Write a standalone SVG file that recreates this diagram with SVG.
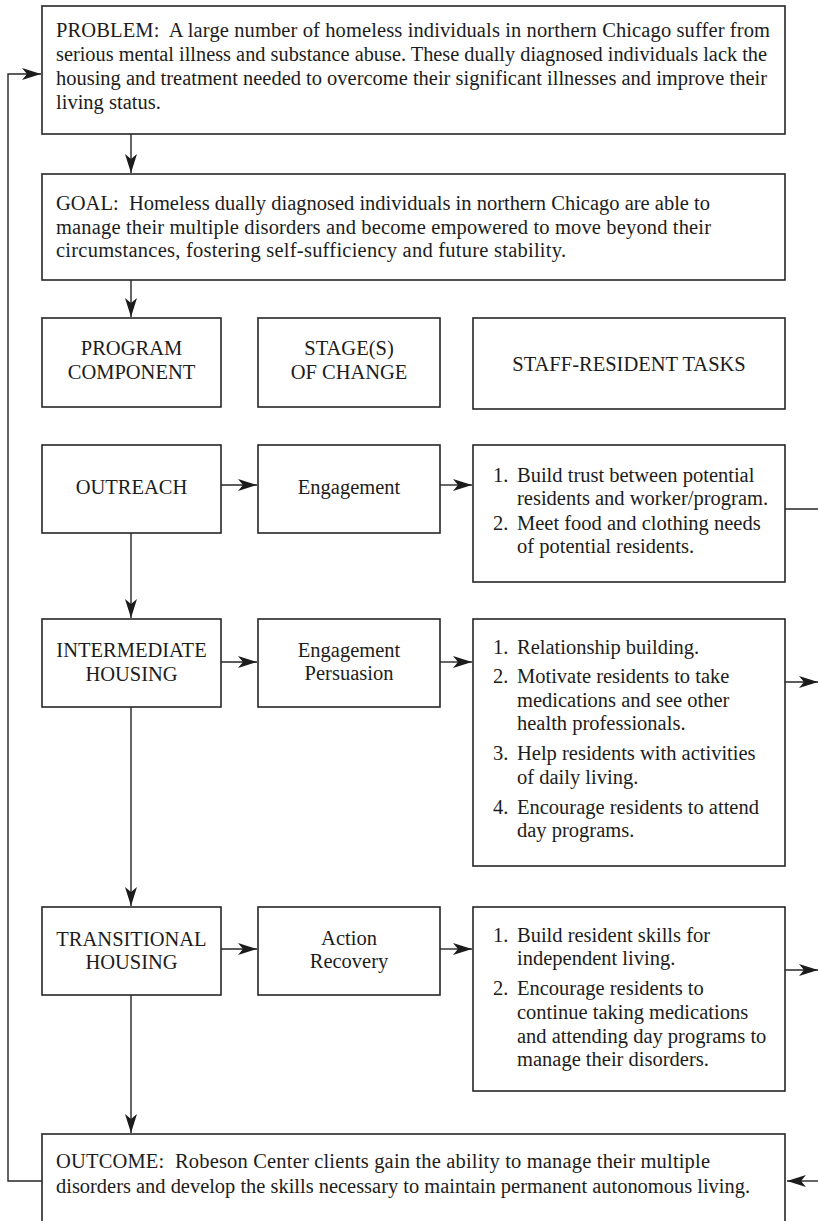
<svg xmlns="http://www.w3.org/2000/svg" width="818" height="1221" viewBox="0 0 818 1221">
<style>
.box{fill:#fff;stroke:#262626;stroke-width:1.6}
.t{font-family:"Liberation Serif",serif;font-size:20.5px;fill:#1c1c1c}
.c{text-anchor:middle}
.ln{fill:none;stroke:#262626;stroke-width:1.4}
</style>
<defs>
<marker id="ah" markerUnits="userSpaceOnUse" markerWidth="22" markerHeight="14" viewBox="-20 -7 22 14" refX="0" refY="0" orient="auto">
<path d="M0,0 L-19,-6 L-14,0 L-19,6 z" fill="#1c1c1c"/>
</marker>
</defs>
<rect width="818" height="1221" fill="#fff"/>
<g id="connectors">
<polyline class="ln" points="42,1181 8,1181 8,74 41,74" marker-end="url(#ah)"/>
<line class="ln" x1="131" y1="134" x2="131" y2="173" marker-end="url(#ah)"/>
<line class="ln" x1="131" y1="280" x2="131" y2="317" marker-end="url(#ah)"/>
<line class="ln" x1="221" y1="485" x2="257" y2="485" marker-end="url(#ah)"/>
<line class="ln" x1="440" y1="485" x2="472" y2="485" marker-end="url(#ah)"/>
<line class="ln" x1="785" y1="509" x2="818" y2="509"/>
<line class="ln" x1="131" y1="533" x2="131" y2="618" marker-end="url(#ah)"/>
<line class="ln" x1="221" y1="662" x2="257" y2="662" marker-end="url(#ah)"/>
<line class="ln" x1="440" y1="662" x2="472" y2="662" marker-end="url(#ah)"/>
<line class="ln" x1="785" y1="682" x2="818" y2="682" marker-end="url(#ah)"/>
<line class="ln" x1="131" y1="707" x2="131" y2="906" marker-end="url(#ah)"/>
<line class="ln" x1="221" y1="949" x2="257" y2="949" marker-end="url(#ah)"/>
<line class="ln" x1="440" y1="949" x2="472" y2="949" marker-end="url(#ah)"/>
<line class="ln" x1="785" y1="970" x2="818" y2="970" marker-end="url(#ah)"/>
<line class="ln" x1="131" y1="995" x2="131" y2="1133" marker-end="url(#ah)"/>
<line class="ln" x1="818" y1="1181" x2="787" y2="1181" marker-end="url(#ah)"/>
</g>
<g id="problem">
<rect class="box" x="42" y="6" width="743" height="128"/>
<text class="t" x="56" y="37" textLength="714" lengthAdjust="spacing">PROBLEM:&#160; A large number of homeless individuals in northern Chicago suffer from</text>
<text class="t" x="56" y="61" textLength="711" lengthAdjust="spacingAndGlyphs">serious mental illness and substance abuse. These dually diagnosed individuals lack the</text>
<text class="t" x="56" y="85" textLength="711" lengthAdjust="spacingAndGlyphs">housing and treatment needed to overcome their significant illnesses and improve their</text>
<text class="t" x="56" y="109">living status.</text>
</g>
<g id="goal">
<rect class="box" x="42" y="174" width="743" height="106"/>
<text class="t" x="56" y="210" textLength="654" lengthAdjust="spacing">GOAL:&#160; Homeless dually diagnosed individuals in northern Chicago are able to</text>
<text class="t" x="56" y="234" textLength="655" lengthAdjust="spacing">manage their multiple disorders and become empowered to move beyond their</text>
<text class="t" x="56" y="257" textLength="510" lengthAdjust="spacing">circumstances, fostering self-sufficiency and future stability.</text>
</g>
<g id="hdr-program">
<rect class="box" x="42" y="318" width="179" height="89"/>
<text class="t c" x="131.5" y="355">PROGRAM</text>
<text class="t c" x="131.5" y="379">COMPONENT</text>
</g>
<g id="hdr-stage">
<rect class="box" x="258" y="318" width="182" height="89"/>
<text class="t c" x="349" y="355">STAGE(S)</text>
<text class="t c" x="349" y="379">OF CHANGE</text>
</g>
<g id="hdr-tasks">
<rect class="box" x="473" y="318" width="312" height="91"/>
<text class="t c" x="629" y="371">STAFF-RESIDENT TASKS</text>
</g>
<g id="outreach">
<rect class="box" x="42" y="445" width="179" height="88"/>
<text class="t c" x="131.5" y="494">OUTREACH</text>
</g>
<g id="stage-engagement">
<rect class="box" x="258" y="445" width="182" height="88"/>
<text class="t c" x="349" y="494">Engagement</text>
</g>
<g id="tasks-outreach">
<rect class="box" x="473" y="445" width="312" height="137"/>
<text class="t" x="493" y="482">1.</text>
<text class="t" x="517" y="482">Build trust between potential</text>
<text class="t" x="517" y="505">residents and worker/program.</text>
<text class="t" x="493" y="530">2.</text>
<text class="t" x="517" y="530">Meet food and clothing needs</text>
<text class="t" x="517" y="553">of potential residents.</text>
</g>
<g id="intermediate">
<rect class="box" x="42" y="619" width="179" height="88"/>
<text class="t c" x="131.5" y="657">INTERMEDIATE</text>
<text class="t c" x="131.5" y="681">HOUSING</text>
</g>
<g id="stage-persuasion">
<rect class="box" x="258" y="619" width="182" height="88"/>
<text class="t c" x="349" y="657">Engagement</text>
<text class="t c" x="349" y="680">Persuasion</text>
</g>
<g id="tasks-intermediate">
<rect class="box" x="473" y="619" width="312" height="247"/>
<text class="t" x="493" y="654">1.</text>
<text class="t" x="517" y="654">Relationship building.</text>
<text class="t" x="493" y="683">2.</text>
<text class="t" x="517" y="683">Motivate residents to take</text>
<text class="t" x="517" y="707">medications and see other</text>
<text class="t" x="517" y="730">health professionals.</text>
<text class="t" x="493" y="760">3.</text>
<text class="t" x="517" y="760">Help residents with activities</text>
<text class="t" x="517" y="784">of daily living.</text>
<text class="t" x="493" y="814">4.</text>
<text class="t" x="517" y="814">Encourage residents to attend</text>
<text class="t" x="517" y="837">day programs.</text>
</g>
<g id="transitional">
<rect class="box" x="42" y="907" width="179" height="88"/>
<text class="t c" x="131.5" y="946">TRANSITIONAL</text>
<text class="t c" x="131.5" y="969">HOUSING</text>
</g>
<g id="stage-action">
<rect class="box" x="258" y="907" width="182" height="88"/>
<text class="t c" x="349" y="945">Action</text>
<text class="t c" x="349" y="968">Recovery</text>
</g>
<g id="tasks-transitional">
<rect class="box" x="473" y="907" width="312" height="184"/>
<text class="t" x="493" y="942">1.</text>
<text class="t" x="517" y="942">Build resident skills for</text>
<text class="t" x="517" y="965">independent living.</text>
<text class="t" x="493" y="995">2.</text>
<text class="t" x="517" y="995">Encourage residents to</text>
<text class="t" x="517" y="1019">continue taking medications</text>
<text class="t" x="517" y="1043">and attending day programs to</text>
<text class="t" x="517" y="1066">manage their disorders.</text>
</g>
<g id="outcome">
<rect class="box" x="42" y="1134" width="743" height="110"/>
<text class="t" x="56" y="1168" textLength="654" lengthAdjust="spacing">OUTCOME:&#160; Robeson Center clients gain the ability to manage their multiple</text>
<text class="t" x="56" y="1193" textLength="694" lengthAdjust="spacingAndGlyphs">disorders and develop the skills necessary to maintain permanent autonomous living.</text>
</g>
</svg>
